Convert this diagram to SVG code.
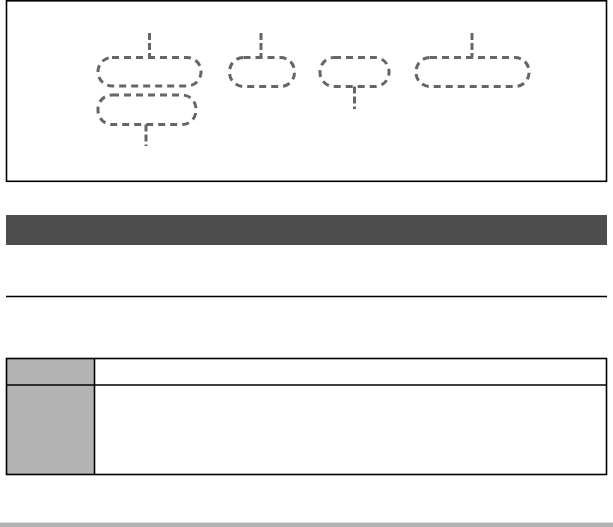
<svg xmlns="http://www.w3.org/2000/svg" width="613" height="527" viewBox="0 0 613 527">
<style>
.pill{fill:none;stroke:#666;stroke-width:3;stroke-dasharray:7 5}
.tick{fill:none;stroke:#666;stroke-width:3;stroke-dasharray:7 3}
.frame{fill:none;stroke:#000;stroke-width:1.6}
.hdr{fill:#b3b3b3}
</style>
<rect width="613" height="527" fill="#fff"/>
<rect class="frame" x="6.5" y="0.8" width="600" height="180.5"/>
<g id="callout1"><rect class="pill" x="98" y="57.5" width="103" height="28.5" rx="14"/></g>
<g id="callout2"><rect class="pill" x="98" y="95" width="98" height="29.5" rx="14"/></g>
<g id="callout3"><rect class="pill" x="229.5" y="57.5" width="65" height="29" rx="14"/></g>
<g id="callout4"><rect class="pill" x="320" y="57.5" width="69" height="29" rx="14"/></g>
<g id="callout5"><rect class="pill" x="416" y="57.5" width="113" height="29" rx="14"/></g>
<g id="connectors">
<line class="tick" x1="149.5" y1="33" x2="149.5" y2="57.5"/>
<line class="tick" x1="146" y1="124.5" x2="146" y2="146"/>
<line class="tick" x1="261" y1="33" x2="261" y2="57.5"/>
<line class="tick" x1="354.5" y1="86.5" x2="354.5" y2="109"/>
<line class="tick" x1="472" y1="33" x2="472" y2="57.5"/>
</g>
<rect x="6" y="215" width="601" height="30" fill="#4d4d4d"/>
<line x1="6" y1="296.5" x2="607" y2="296.5" stroke="#000" stroke-width="1.6"/>
<g id="table">
<rect class="hdr" x="6.5" y="358.5" width="88" height="116"/>
<rect class="frame" x="6.5" y="358.5" width="600" height="116"/>
<line x1="6.5" y1="385" x2="606.5" y2="385" stroke="#000" stroke-width="1.6"/>
<line x1="94.5" y1="358.5" x2="94.5" y2="474.5" stroke="#000" stroke-width="1.6"/>
</g>
<rect x="0" y="522.5" width="613" height="4.5" fill="#b3b3b3"/>
</svg>
